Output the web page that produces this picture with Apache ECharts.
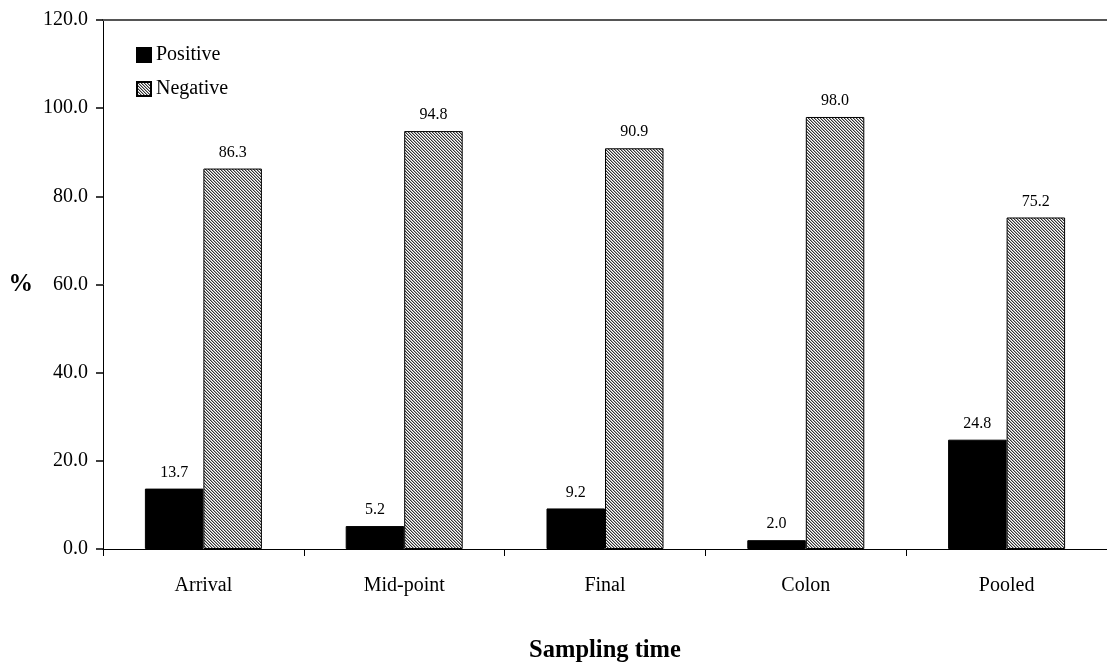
<!DOCTYPE html>
<html>
<head>
<meta charset="utf-8">
<script src="https://cdn.jsdelivr.net/npm/echarts@6/dist/echarts.min.js"></script>
<style>html,body{margin:0;padding:0;background:#fff}#c{width:1107px;height:668px}</style>
</head>
<body>
<div id="c"></div>
<script>
const categories = ['Arrival', 'Mid-point', 'Final', 'Colon', 'Pooled'];
const positive = [13.7, 5.2, 9.2, 2.0, 24.8];
const negative = [86.3, 94.8, 90.9, 98.0, 75.2];
const yTicks = { min: 0, max: 120, interval: 20 };

const FONT = "'Liberation Serif', 'Times New Roman', serif";

function makeHatch() {
  const n = 3;
  const c = document.createElement('canvas');
  c.width = n; c.height = n;
  const ctx = c.getContext('2d');
  ctx.fillStyle = '#ffffff';
  ctx.fillRect(0, 0, n, n);
  for (let y = 0; y < n; y++) {
    for (let x = 0; x < n; x++) {
      const d = ((x - y) % n + n) % n;
      if (d === 0) { ctx.fillStyle = '#333333'; ctx.fillRect(x, y, 1, 1); }
      else if (d === 1) { ctx.fillStyle = '#a8a8a8'; ctx.fillRect(x, y, 1, 1); }
    }
  }
  return c;
}
const hatch = makeHatch();

const chart = echarts.init(document.getElementById('c'), null, { renderer: 'canvas' });
chart.setOption({
  animation: false,
  backgroundColor: '#fff',
  textStyle: { fontFamily: FONT, color: '#000' },
  grid: { left: 103, right: -11, top: 20, bottom: 117, containLabel: false },
  legend: {
    orient: 'vertical', left: 131, top: 40,
    itemWidth: 14, itemHeight: 14, itemGap: 14,
    icon: 'rect',
    textStyle: { fontFamily: FONT, fontSize: 20, color: '#000' },
    data: ['Positive', 'Negative']
  },
  xAxis: [{
    type: 'category', data: categories, position: 'bottom',
    axisLine: { show: true, lineStyle: { color: '#000', width: 1 } },
    axisTick: { show: true, length: 7, inside: false, lineStyle: { color: '#000' } },
    axisLabel: { fontFamily: FONT, fontSize: 20, color: '#000', margin: 27 },
    name: 'Sampling time', nameLocation: 'middle', nameGap: 89,
    nameTextStyle: { fontFamily: FONT, fontSize: 24.5, fontWeight: 'bold', color: '#000' }
  }, {
    type: 'category', data: categories, position: 'top',
    axisLine: { show: true, lineStyle: { color: '#555', width: 2 } },
    axisTick: { show: false }, axisLabel: { show: false }
  }],
  yAxis: [{
    type: 'value', position: 'left',
    min: yTicks.min, max: yTicks.max, interval: yTicks.interval,
    axisLine: { show: true, onZero: false, lineStyle: { color: '#000', width: 1 } },
    axisTick: { show: true, length: 7, inside: false, lineStyle: { color: '#000', width: 1.5 } },
    splitLine: { show: false },
    axisLabel: { fontFamily: FONT, fontSize: 20, color: '#000', margin: 15,
      formatter: v => v.toFixed(1) },
    name: '%', nameLocation: 'middle', nameRotate: 0, nameGap: 70,
    nameTextStyle: { fontFamily: FONT, fontSize: 24.5, fontWeight: 'bold', color: '#000' }
  }],
  series: [{
    name: 'Positive', type: 'bar', data: positive, barWidth: 58.5, barGap: '0%',
    itemStyle: { color: '#000', borderColor: '#000', borderWidth: 1 },
    label: { show: true, position: 'top', distance: 8, fontFamily: FONT, fontSize: 16, color: '#000',
      formatter: p => p.value.toFixed(1) }
  }, {
    name: 'Negative', type: 'bar', data: negative, barWidth: 58.5, barGap: '0%',
    itemStyle: { color: { image: hatch, repeat: 'repeat' }, borderColor: '#000', borderWidth: 1 },
    label: { show: true, position: 'top', distance: 8, fontFamily: FONT, fontSize: 16, color: '#000',
      formatter: p => p.value.toFixed(1) }
  }]
});
</script>
</body>
</html>
